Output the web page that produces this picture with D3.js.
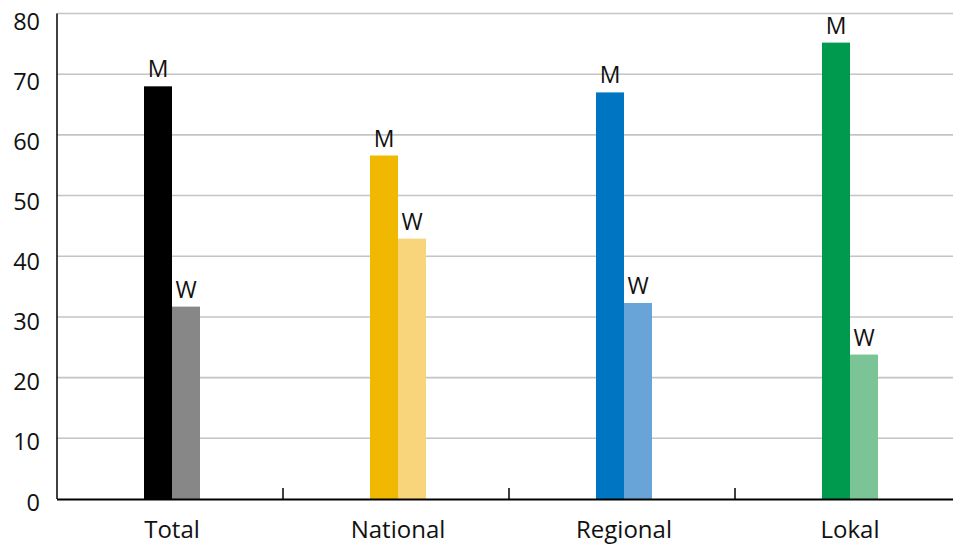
<!DOCTYPE html>
<html><head><meta charset="utf-8">
<script src="https://cdn.jsdelivr.net/npm/d3@7"></script>
<style>html,body{margin:0;padding:0;background:#fff;}svg{display:block;}</style>
</head><body>
<svg id="chart" width="953" height="544"></svg>
<script>
const categories = ["Total", "National", "Regional", "Lokal"];
const menValues = [68.0, 56.6, 67.0, 75.2];
const womenValues = [31.7, 42.9, 32.3, 23.8];
const menColors = ["#000000", "#f0b800", "#0075c2", "#009a4e"];
const womenColors = ["#878787", "#f8d57a", "#68a4d8", "#7bc495"];
const yTicks = [0, 10, 20, 30, 40, 50, 60, 70, 80];
const seriesLabels = ["M", "W"];

(function () {
const svg = d3.select("#chart");
const mLeft = 57, mRight = 961, mTop = 13.5, mBottom = 499;
const font = "'Open Sans', 'Noto Sans', sans-serif";

const x = d3.scaleBand().domain(categories).range([mLeft, mRight]).paddingInner(0).paddingOuter(0);
const y = d3.scaleLinear().domain([0, 80]).range([mBottom, mTop]);
// tick labels in the reference sit on a slightly compressed scale below their gridlines
const yLab = d3.scaleLinear().domain([0, 80]).range([mBottom + 3, mTop + 7.5]);
const barW = 28, shift = 2;

// gridlines
svg.append("g").selectAll("line").data(yTicks.filter(d => d > 0)).join("line")
  .attr("x1", mLeft).attr("x2", 953)
  .attr("y1", d => y(d)).attr("y2", d => y(d))
  .attr("stroke", "#c4c4c4").attr("stroke-width", 1.6);

// y labels
svg.append("g").selectAll("text").data(yTicks).join("text")
  .attr("x", 40).attr("y", d => yLab(d) + 8.5)
  .attr("text-anchor", "end").attr("font-family", font).attr("font-size", 23.5)
  .attr("fill", "#111").text(d => d);

// bars
const data = categories.map((c, i) => ({c, i, m: menValues[i], w: womenValues[i]}));
const g = svg.append("g");
data.forEach(d => {
  const cx = x(d.c) + x.bandwidth() / 2 + shift;
  [[d.m, menColors[d.i], cx - barW, seriesLabels[0]], [d.w, womenColors[d.i], cx, seriesLabels[1]]].forEach(([v, col, x0, lab]) => {
    g.append("rect").attr("x", x0).attr("width", barW)
      .attr("y", y(v)).attr("height", mBottom - y(v)).attr("fill", col);
    g.append("text").attr("x", x0 + barW / 2).attr("y", y(v) - 9)
      .attr("text-anchor", "middle").attr("font-family", font).attr("font-size", 23)
      .attr("fill", "#111").text(lab);
  });
});

// axes lines
svg.append("line").attr("x1", mLeft).attr("x2", mLeft).attr("y1", mTop).attr("y2", mBottom)
  .attr("stroke", "#000").attr("stroke-width", 1.5);
svg.append("line").attr("x1", mLeft).attr("x2", 953).attr("y1", mBottom + 0.5).attr("y2", mBottom + 0.5)
  .attr("stroke", "#000").attr("stroke-width", 2);

// category separator ticks
svg.append("g").selectAll("line").data(categories.slice(1)).join("line")
  .attr("x1", d => x(d)).attr("x2", d => x(d))
  .attr("y1", mBottom - 11).attr("y2", mBottom)
  .attr("stroke", "#000").attr("stroke-width", 1.5);

// x labels
svg.append("g").selectAll("text").data(categories).join("text")
  .attr("x", d => x(d) + x.bandwidth() / 2 + shift).attr("y", 538)
  .attr("text-anchor", "middle").attr("font-family", font).attr("font-size", 24)
  .attr("fill", "#111").text(d => d);
})();
</script>
</body></html>
